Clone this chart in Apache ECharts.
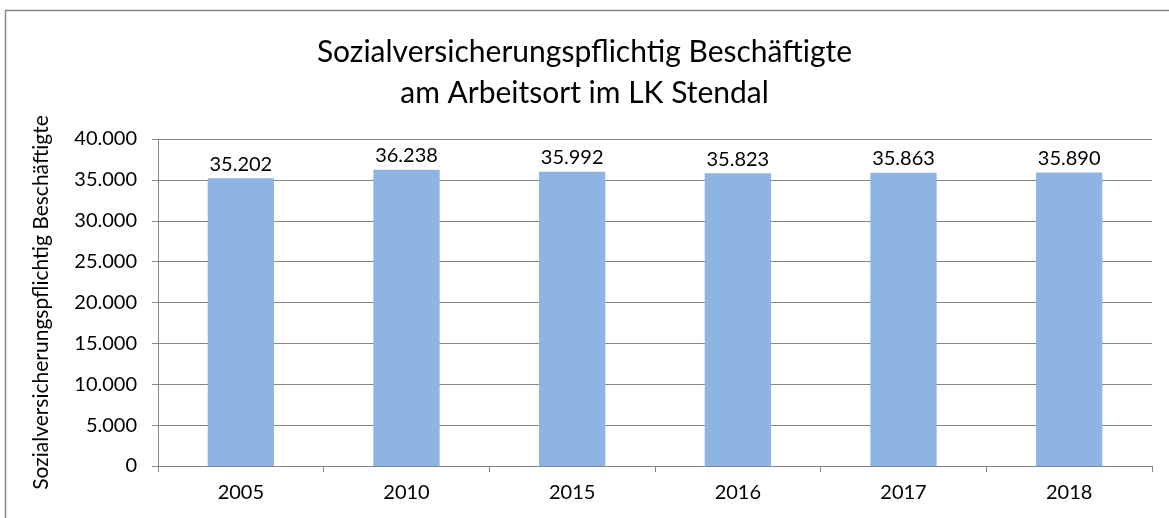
<!DOCTYPE html>
<html>
<head>
<meta charset="utf-8">
<script src="https://cdn.jsdelivr.net/npm/echarts@6/dist/echarts.min.js"></script>
<style>
  html, body { margin: 0; padding: 0; background: #fff; }
  #chart { width: 1169px; height: 518px; }
</style>
</head>
<body>
<div id="chart"></div>
<script>
// ========== Sozialversicherungspflichtig Beschäftigte - LK Stendal ==========
const years  = ['2005', '2010', '2015', '2016', '2017', '2018'];
const values = [35202, 36238, 35992, 35823, 35863, 35890];
const yTicks = { min: 0, max: 40000, interval: 5000 };

const fmt = v => v === 0 ? '0' : v.toLocaleString('de-DE');
const FONT = 'Lato, "Open Sans", sans-serif';

const chart = echarts.init(document.getElementById('chart'));
chart.setOption({
    backgroundColor: '#fff',
    animation: false,
    textStyle: { fontFamily: FONT },
    title: {
        text: 'Sozialversicherungspflichtig Beschäftigte\nam Arbeitsort im LK Stendal',
        left: 'center', top: 27,
        textStyle: { fontSize: 30, fontWeight: 'normal', color: '#000', lineHeight: 41, fontFamily: FONT }
    },
    graphic: [{
        type: 'rect', shape: { x: 5.5, y: 10.5, width: 1200, height: 600 },
        style: { fill: 'none', stroke: '#888', lineWidth: 1.5 }, silent: true
    }],
    grid: { left: 158, right: 17, top: 139, bottom: 52 },
    xAxis: {
        type: 'category', data: years,
        axisLine: { lineStyle: { color: '#868686' } },
        axisTick: { show: true, length: 6, lineStyle: { color: '#868686' } },
        axisLabel: { color: '#000', fontSize: 20, margin: 17, fontFamily: FONT }
    },
    yAxis: {
        type: 'value', min: yTicks.min, max: yTicks.max, interval: yTicks.interval,
        name: 'Sozialversicherungspflichtig Beschäftigte',
        nameLocation: 'middle', nameGap: 106, nameRotate: 90,
        nameTextStyle: { color: '#000', fontSize: 21, fontFamily: FONT },
        axisLine: { show: true, lineStyle: { color: '#868686' } },
        axisTick: { show: true, length: 6, lineStyle: { color: '#868686' } },
        axisLabel: { color: '#000', fontSize: 20, margin: 21, formatter: fmt, fontFamily: FONT },
        splitLine: { lineStyle: { color: '#868686', width: 1 } }
    },
    series: [{
        type: 'bar', data: values, barWidth: '40%',
        itemStyle: { color: '#8EB4E3' },
        label: { show: true, position: 'top', distance: 4, color: '#000', fontSize: 20,
                 formatter: p => fmt(p.value), fontFamily: FONT }
    }]
});
</script>
</body>
</html>
